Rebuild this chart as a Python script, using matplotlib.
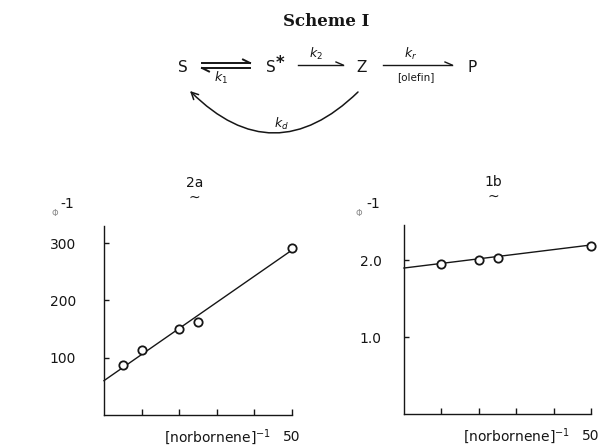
import matplotlib.pyplot as plt

# plot 2a: inverse quantum yield vs inverse [norbornene]
inv_norb_2a = [5, 10, 20, 25, 50]
inv_phi_2a = [88, 114, 151, 163, 292]
fit_x_2a = [0, 50]
fit_y_2a = [60, 288]

# plot 1b
inv_norb_1b = [10, 20, 25, 50]
inv_phi_1b = [1.95, 2.00, 2.03, 2.19]
fit_x_1b = [0, 50]
fit_y_1b = [1.90, 2.20]

yticks_2a = [100, 200, 300]
ytick_labels_2a = ["100", "200", "300"]
yticks_1b = [1.0, 2.0]
ytick_labels_1b = ["1.0", "2.0"]
xticks = [10, 20, 30, 40, 50]

INK = "#161616"
plt.rcParams["font.family"] = ["DejaVu Sans"]

fig = plt.figure(figsize=(6.02, 4.47), dpi=100)

# ---- Scheme I, drawn in pixel coordinates on an overlay axes ----
sc = fig.add_axes([0, 0, 1, 1])
sc.set_xlim(0, 602)
sc.set_ylim(447, 0)
sc.set_facecolor("none")
sc.axis("off")

sc.text(326, 22, "Scheme I", ha="center", va="center", fontsize=12,
        fontweight="bold", family="DejaVu Serif", color=INK)

sp_kw = dict(ha="center", va="center", fontsize=11, color=INK)
sc.text(183, 68, "S", **sp_kw)
sc.text(271, 68, "S", **sp_kw)
sc.text(280, 63, "*", ha="center", va="center", fontsize=12, color=INK,
        fontweight="bold")
sc.text(362, 68, "Z", **sp_kw)
sc.text(472, 67, "P", **sp_kw)

lw = 1.0
# equilibrium harpoons
sc.plot([202, 250], [63, 63], color=INK, lw=1.4)
sc.plot([243, 250], [59.5, 63], color=INK, lw=1.4)
sc.plot([202, 250], [68, 68], color=INK, lw=1.4)
sc.plot([202, 209], [68, 71.5], color=INK, lw=1.4)
# k2 arrow
sc.plot([298, 343], [65, 65], color=INK, lw=lw)
sc.plot([336, 343], [62, 65], color=INK, lw=lw)
# kr arrow
sc.plot([383, 452], [65, 65], color=INK, lw=lw)
sc.plot([445, 452], [62, 65], color=INK, lw=lw)

k_kw = dict(ha="center", va="center", fontsize=9, color=INK)
sc.text(221, 78, "$k_1$", **k_kw)
sc.text(316, 54, "$k_2$", **k_kw)
sc.text(411, 54, "$k_r$", **k_kw)
sc.text(416, 77, "[olefin]", ha="center", va="center", fontsize=7.5, color=INK)

# decay arc Z -> S
sc.annotate("", xy=(190, 91), xytext=(358, 92),
            arrowprops=dict(arrowstyle="->,head_length=0.5,head_width=0.25",
                            connectionstyle="arc3,rad=-0.49",
                            color=INK, lw=1.1, shrinkA=0, shrinkB=0))
sc.text(281, 124, "$k_d$", **k_kw)


def style_axes(ax, ymax, yticks, ylabels, ypad, title):
    ax.set_xlim(0, 50)
    ax.set_ylim(0, ymax)
    for s in ("top", "right"):
        ax.spines[s].set_visible(False)
    for s in ("left", "bottom"):
        ax.spines[s].set_color(INK)
        ax.spines[s].set_linewidth(1.0)
    ax.set_facecolor("none")
    ax.set_yticks(yticks)
    ax.set_yticklabels(ylabels)
    ax.set_xticks(xticks)
    ax.set_xticklabels(["", "", "", "", "50"])
    ax.tick_params(axis="y", direction="in", length=3.5, width=1.0,
                   pad=ypad, labelsize=10, colors=INK)
    ax.tick_params(axis="x", direction="in", length=4, width=1.0,
                   pad=11, labelsize=10, colors=INK)
    ax.text(0.89, -0.118, "[norbornene]$^{-1}$", transform=ax.transAxes,
            ha="right", va="center", fontsize=10, color=INK)
    ax.text(0.48, 1.19, title, transform=ax.transAxes, ha="center",
            va="bottom", fontsize=10, color=INK)
    ax.text(0.48, 1.185, "~", transform=ax.transAxes, ha="center",
            va="top", fontsize=10, color=INK)


# ---- left: 2a ----
ax1 = fig.add_axes([104 / 602, 1 - 415 / 447, 188 / 602, 189 / 447])
ax1.plot(fit_x_2a, fit_y_2a, color=INK, lw=1.0, clip_on=False)
ax1.plot(inv_norb_2a, inv_phi_2a, "o", ms=6, mfc="white", mec=INK,
         mew=1.3, clip_on=False, zorder=3)
style_axes(ax1, 330, yticks_2a, ytick_labels_2a, 20, "2a")
fig.text(55 / 602, 1 - 213 / 447, "Φ", fontsize=6, color="#8a8a8a",
         ha="center", va="center")
fig.text(67 / 602, 1 - 204 / 447, "-1", fontsize=10, color=INK,
         ha="center", va="center")

# ---- right: 1b ----
ax2 = fig.add_axes([404 / 602, 1 - 414 / 447, 187 / 602, 189 / 447])
ax2.plot(fit_x_1b, fit_y_1b, color=INK, lw=1.0, clip_on=False)
ax2.plot(inv_norb_1b, inv_phi_1b, "o", ms=6, mfc="white", mec=INK,
         mew=1.3, clip_on=False, zorder=3)
style_axes(ax2, 2.46, yticks_1b, ytick_labels_1b, 16, "1b")
fig.text(359 / 602, 1 - 214 / 447, "Φ", fontsize=6, color="#8a8a8a",
         ha="center", va="center")
fig.text(373 / 602, 1 - 204 / 447, "-1", fontsize=10, color=INK,
         ha="center", va="center")

fig.savefig("out.png", dpi=100)
